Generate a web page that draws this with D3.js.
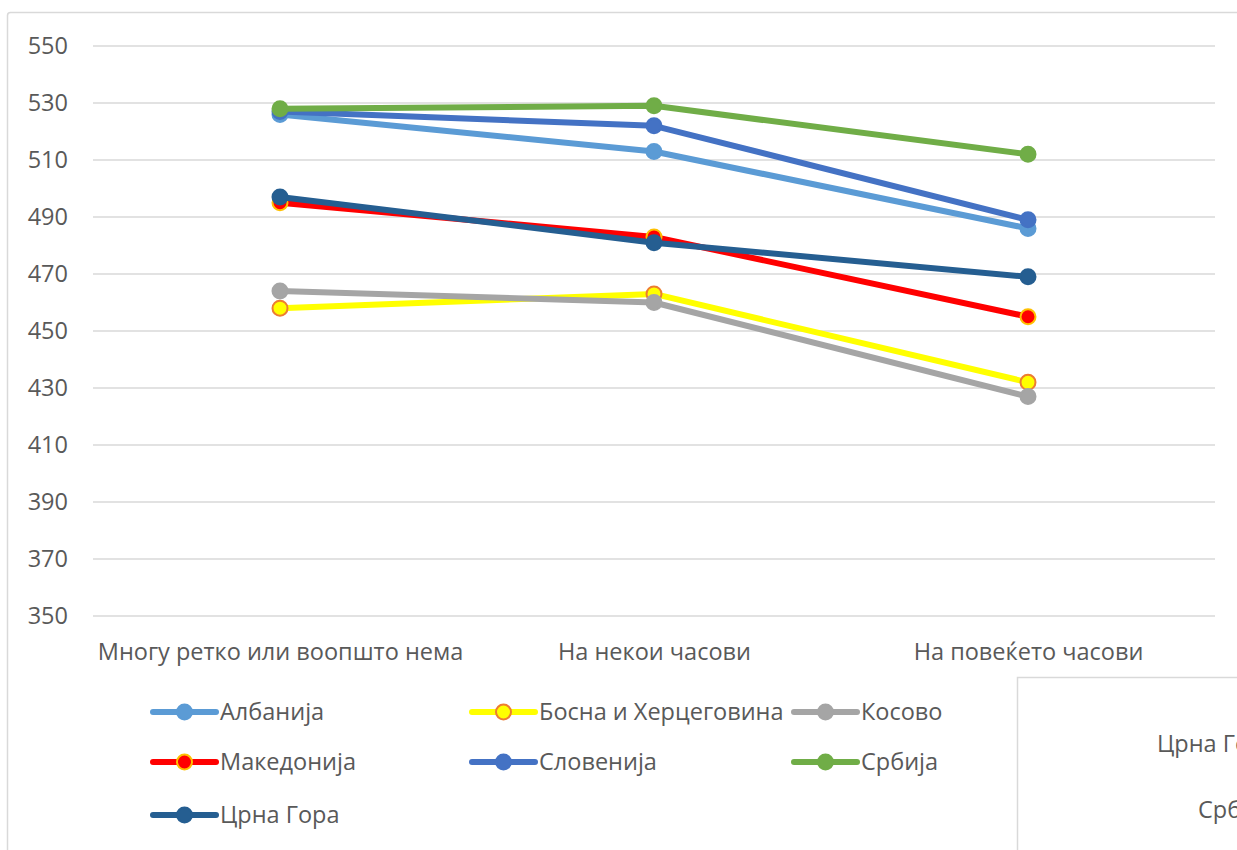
<!DOCTYPE html>
<html>
<head>
<meta charset="utf-8">
<script src="https://cdn.jsdelivr.net/npm/d3@7"></script>
<style>
  body { margin: 0; background: #fff; overflow: hidden; }
  text { font-family: "Open Sans", "Noto Sans", sans-serif; fill: #595959; }
</style>
</head>
<body>
<div id="chart"></div>
<script>
// categories on the x axis
const categories = ["Многу ретко или воопшто нема", "На некои часови", "На повеќето часови"];
const yTicks = [350, 370, 390, 410, 430, 450, 470, 490, 510, 530, 550];

// series values
const albanija = [526, 513, 486];
const bosna = [458, 463, 432];
const kosovo = [464, 460, 427];
const makedonija = [495, 483, 455];
const slovenija = [527, 522, 489];
const srbija = [528, 529, 512];
const crnaGora = [497, 481, 469];

const series = [
  { name: "Албанија", values: albanija, color: "#5B9BD5", fill: "#5B9BD5", edge: "#5B9BD5" },
  { name: "Босна и Херцеговина", values: bosna, color: "#FFFF00", fill: "#FFFF00", edge: "#ED7D31" },
  { name: "Косово", values: kosovo, color: "#A5A5A5", fill: "#A5A5A5", edge: "#A5A5A5" },
  { name: "Македонија", values: makedonija, color: "#FF0000", fill: "#FF0000", edge: "#FFC000" },
  { name: "Словенија", values: slovenija, color: "#4472C4", fill: "#4472C4", edge: "#4472C4" },
  { name: "Србија", values: srbija, color: "#70AD47", fill: "#70AD47", edge: "#70AD47" },
  { name: "Црна Гора", values: crnaGora, color: "#255E91", fill: "#255E91", edge: "#255E91" },
];

const W = 1237, H = 850;
const fontSize = 23.5;
const svg = d3.select("#chart").append("svg").attr("width", W).attr("height", H);

// chart frame (extends past the right and bottom edge)
svg.append("rect")
  .attr("x", 7.5).attr("y", 12.5).attr("width", W + 20).attr("height", H + 20)
  .attr("rx", 3)
  .attr("fill", "#fff").attr("stroke", "#d9d9d9").attr("stroke-width", 1.5);

const plot = { left: 93, right: 1215, top: 46, bottom: 616 };

const x = d3.scalePoint().domain(categories).range([280, 1028]);
const y = d3.scaleLinear().domain([350, 550]).range([plot.bottom, plot.top]);

// gridlines
svg.append("g")
  .selectAll("line")
  .data(yTicks)
  .join("line")
  .attr("x1", plot.left).attr("x2", plot.right)
  .attr("y1", (d) => y(d)).attr("y2", (d) => y(d))
  .attr("stroke", "#d9d9d9").attr("stroke-width", 1.5);

// y axis labels
const yAxis = svg.append("g")
  .attr("transform", `translate(${plot.left - 25},0)`)
  .call(d3.axisLeft(y).tickValues(yTicks).tickSize(0).tickPadding(0));
yAxis.select(".domain").remove();
yAxis.selectAll("text")
  .attr("font-size", fontSize)
  .style("font-family", '"Open Sans", "Noto Sans", sans-serif')
  .attr("fill", "#595959");

// x axis labels
const xAxis = svg.append("g")
  .attr("transform", `translate(0,${plot.bottom + 27})`)
  .call(d3.axisBottom(x).tickSize(0).tickPadding(0));
xAxis.select(".domain").remove();
xAxis.selectAll("text")
  .attr("font-size", fontSize)
  .style("font-family", '"Open Sans", "Noto Sans", sans-serif')
  .attr("fill", "#595959");

// lines and markers
const line = d3.line()
  .x((d, i) => x(categories[i]))
  .y((d) => y(d));

series.forEach((s) => {
  const g = svg.append("g");
  g.append("path")
    .datum(s.values)
    .attr("d", line)
    .attr("fill", "none")
    .attr("stroke", s.color)
    .attr("stroke-width", 6)
    .attr("stroke-linejoin", "round");
  g.selectAll("circle")
    .data(s.values)
    .join("circle")
    .attr("cx", (d, i) => x(categories[i]))
    .attr("cy", (d) => y(d))
    .attr("r", 7.5)
    .attr("fill", s.fill)
    .attr("stroke", s.edge)
    .attr("stroke-width", 2);
});

// legend
const legendCols = [153, 472, 794];
const legendRows = [712, 762, 815];
const legend = svg.append("g");
series.forEach((s, i) => {
  const lx = legendCols[i % 3];
  const ly = legendRows[Math.floor(i / 3)];
  const item = legend.append("g").attr("transform", `translate(${lx},${ly})`);
  item.append("line")
    .attr("x1", 0).attr("x2", 63).attr("y1", 0).attr("y2", 0)
    .attr("stroke", s.color).attr("stroke-width", 6).attr("stroke-linecap", "round");
  item.append("circle")
    .attr("cx", 31.5).attr("cy", 0).attr("r", 7.5)
    .attr("fill", s.fill).attr("stroke", s.edge).attr("stroke-width", 2);
  item.append("text")
    .attr("x", 67).attr("y", 0).attr("dy", "0.35em")
    .attr("font-size", fontSize)
    .text(s.name);
});

// neighbouring chart box, cut off by the edge
const side = svg.append("g");
side.append("rect")
  .attr("x", 1017.5).attr("y", 677.5).attr("width", 300).attr("height", 300)
  .attr("fill", "#fff").attr("stroke", "#d9d9d9").attr("stroke-width", 1.5);
side.append("text").attr("x", 1157).attr("y", 744).attr("dy", "0.35em")
  .attr("font-size", fontSize).text("Црна Гора");
side.append("text").attr("x", 1198).attr("y", 810).attr("dy", "0.35em")
  .attr("font-size", fontSize).text("Србија");
</script>
</body>
</html>
